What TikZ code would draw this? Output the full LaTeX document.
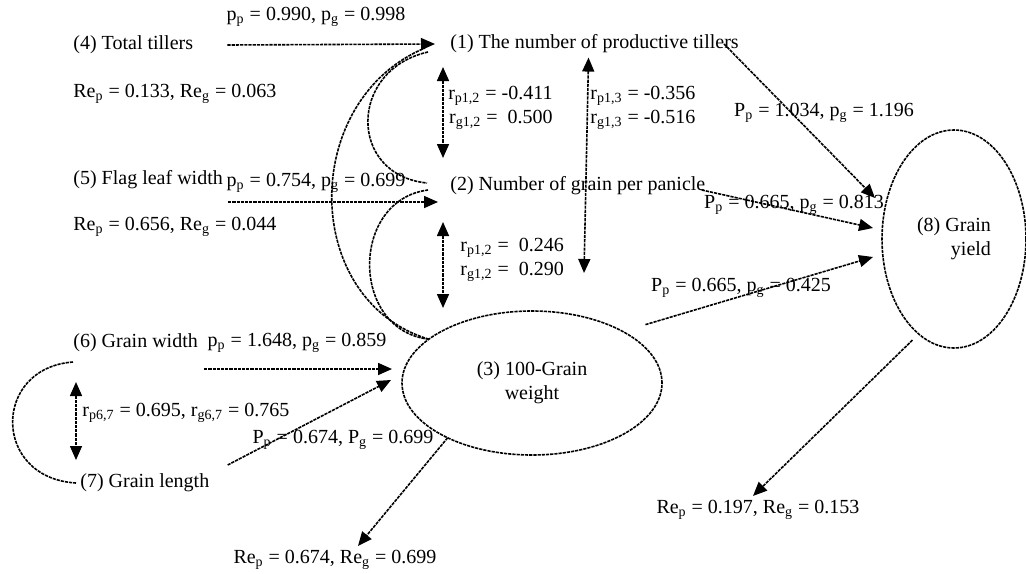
\documentclass[tikz,border=0pt]{standalone}
\usepackage{fontspec}
\setmainfont{Liberation Serif}
\usetikzlibrary{arrows.meta,shapes.geometric}
\newcommand{\sbs}[1]{\textsubscript{#1}}

\begin{document}
\begin{tikzpicture}[x=0.5pt,y=-0.5pt,>={Triangle[length=7pt,width=6pt]},
		every node/.style={font=\fontsize{10}{12}\selectfont,inner sep=2pt},
		var/.style={anchor=west},
		trait/.style={ellipse,draw,line width=0.8pt,dash pattern=on 1.6pt off 0.5pt,outer sep=0pt},
		lnk/.style={line width=0.8pt,dash pattern=on 1.6pt off 0.5pt},
		pth/.style={->,lnk},
		cor/.style={<->,lnk}]
	\useasboundingbox (0,0) rectangle (1026,573);

	% traits
	\node[var] (n4) at (69,45) {(4) Total tillers};
	\node[var] (n5) at (69,180) {(5) Flag leaf width};
	\node[var] (n6) at (69,343) {(6) Grain width};
	\node[var] (n7) at (76,483) {(7) Grain length};
	\node[var] (n1) at (446,44) {(1) The number of productive tillers};
	\node[var] (n2) at (446,186) {(2) Number of grain per panicle};
	\node[trait,minimum width=130pt,minimum height=72pt,align=center] (n3) at (532,383) {(3) 100-Grain\\weight};
	\node[trait,minimum width=72pt,minimum height=109pt,align=right] (n8) at (954,239) {(8) Grain\\yield};

	% residuals
	\node[var] (re4) at (69,94) {Re\sbs{p} = 0.133, Re\sbs{g} = 0.063};
	\node[var] (re5) at (69,227) {Re\sbs{p} = 0.656, Re\sbs{g} = 0.044};
	\node (re3) at (335,560) {Re\sbs{p} = 0.674, Re\sbs{g} = 0.699};
	\node (re8) at (758,510) {Re\sbs{p} = 0.197, Re\sbs{g} = 0.153};

	% path coefficients
	\node (p41) at (316,17) {p\sbs{p} = 0.990, p\sbs{g} = 0.998};
	\node (p52) at (316,183) {p\sbs{p} = 0.754, p\sbs{g} = 0.699};
	\node (p63) at (297,343) {p\sbs{p} = 1.648, p\sbs{g} = 0.859};
	\node (p73) at (343,440) {P\sbs{p} = 0.674, P\sbs{g} = 0.699};
	\node (p18) at (824,113) {P\sbs{p} = 1.034, p\sbs{g} = 1.196};
	\node (p28) at (794,205) {P\sbs{p} = 0.665, p\sbs{g} = 0.813};
	\node (p38) at (741,288) {P\sbs{p} = 0.665, p\sbs{g} = 0.425};

	% correlations
	\node[anchor=east,align=right] (r12) at (557,108) {r\sbs{p1,2} = -0.411\\r\sbs{g1,2} = \ 0.500};
	\node[var,align=left] (r13) at (586,108) {r\sbs{p1,3} = -0.356\\r\sbs{g1,3} = -0.516};
	\node[var,align=left] (r23) at (456,260) {r\sbs{p1,2} = \ 0.246\\r\sbs{g1,2} = \ 0.290};
	\node[var] (r67) at (78,413) {r\sbs{p6,7} = 0.695, r\sbs{g6,7} = 0.765};

	\draw[pth] ([xshift=15pt]n4.east) -- ([xshift=-5.5pt]n1.west);
	\draw[pth] ([shift={(0.5pt,-11pt)}]n5.east) -- ([shift={(-4pt,-8pt)}]n2.west);
	\draw[pth] ([shift={(1pt,-13pt)}]n6.east) -- ([shift={(-5pt,7pt)}]n3.west);
	\draw[pth] ([shift={(7pt,9pt)}]n7.east) -- ([shift={(-5.5pt,1.5pt)}]n3.west);
	\draw[pth] ([xshift=-9.5pt]n1.east) -- ([shift={(-3.5pt,20.5pt)}]n8.west);
	\draw[pth] ([shift={(-4pt,-2pt)}]n2.east) -- ([shift={(-4.5pt,5.5pt)}]n8.west);
	\draw[pth] ([shift={(7pt,6pt)}]n3.25) -- ([shift={(-4.5pt,-9pt)}]n8.west);
	\draw[pth] (n3.213) -- ([xshift=11.5pt]re3.north);
	\draw[pth] ([yshift=-6pt]n8.245) -- ([xshift=-2.5pt]re8.north);

	\draw[cor] ([shift={(-1.5pt,-11.5pt)}]n1.west) -- ([shift={(-1.5pt,14pt)}]n2.west);
	\draw[cor] ([shift={(-1.5pt,-18pt)}]n2.west) -- ([shift={(-44.5pt,1.5pt)}]n3.north);
	\draw[cor] ([xshift=-3pt]n1.south) -- ([shift={(26pt,19pt)}]n3.north);
	\draw[cor] ([shift={(3.5pt,-19.5pt)}]n6.west) -- ([yshift=11.5pt]n7.west);

	% curved links on the left
	\draw[lnk] (n3.157) .. controls (300,300) and (300,100) .. ([shift={(-10.5pt,-2pt)}]n1.west);
	\draw[lnk] ([shift={(-9pt,-4pt)}]n1.west) .. controls (348,70) and (348,175) .. ([shift={(-9.5pt,1.5pt)}]n2.west);
	\draw[lnk] (n3.157) .. controls (350,330) and (350,200) .. ([shift={(-9pt,-2pt)}]n2.west);
	\draw[lnk] ([shift={(2pt,-9.5pt)}]n6.west) .. controls (-8,368) and (-8,478) .. (n7.west);
\end{tikzpicture}
\end{document}
